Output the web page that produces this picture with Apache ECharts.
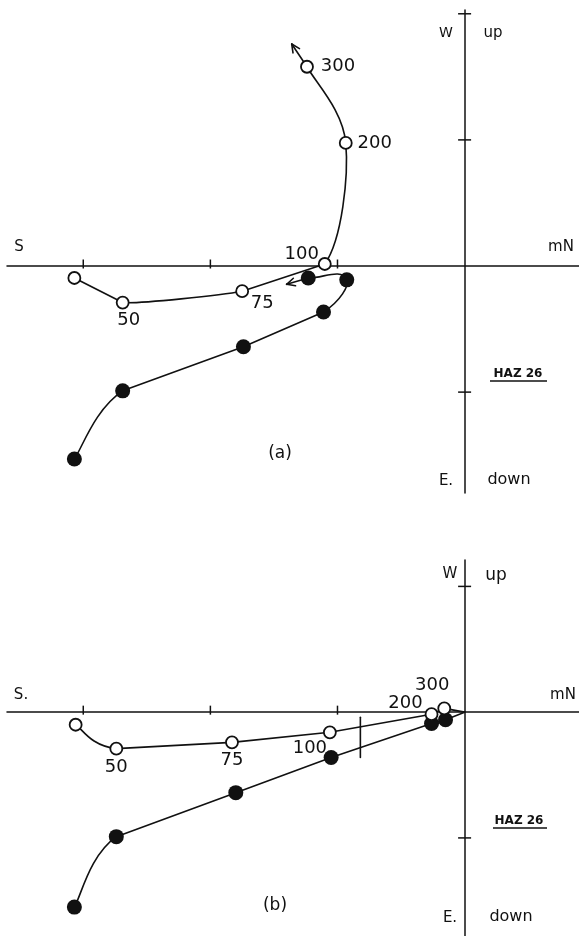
<!DOCTYPE html>
<html>
<head>
<meta charset="utf-8">
<script src="https://cdn.jsdelivr.net/npm/echarts@6/dist/echarts.min.js"></script>
<style>html,body{margin:0;padding:0;background:#fff;}#chart{width:579px;height:936px;}</style>
</head>
<body>
<div id="chart"></div>
<script>
// ---- data (units of the axis ticks) ----
const stepLabels = ['', '50', '75', '100', '200', '300'];
const xTicks = [-3, -2, -1];
const yTicksA = [2, 1, -1];
const yTicksB = [1, -1];

// panel (a)
const northOpenA   = [-3.07, -2.69, -1.75, -1.10, -0.935, -1.24];
const westA        = [-0.095, -0.29, -0.20, 0.016, 0.976, 1.58];
const northFilledA = [-3.07, -2.69, -1.74, -1.11, -0.927, -1.23];
const upA          = [-1.53, -0.99, -0.64, -0.365, -0.11, -0.095];
const arrowTipOpenA   = [-1.36, 1.76];
const arrowTipFilledA = [-1.40, -0.145];

// panel (b)
const northOpenB   = [-3.06, -2.74, -1.83, -1.06, -0.26, -0.16];
const westB        = [-0.10, -0.29, -0.24, -0.16, -0.016, 0.03];
const northFilledB = [-3.07, -2.74, -1.80, -1.05, -0.26, -0.15];
const upB          = [-1.55, -0.99, -0.64, -0.36, -0.09, -0.06];
const originB      = [0, 0];
const cutMarkB     = [[-0.82, -0.04], [-0.82, -0.36]];

// ---- styling: curvature of each connecting segment, label placement ----
const INK = '#111';
const FONT = 'DejaVu Sans';
const curveOpenA   = [0, 0.6, 0, 1, 1];
const curveFilledA = [1, 0, 0, 1, 2.2];
const curveOpenB   = [1, 0, 0, 0, 0, 0];
const curveFilledB = [1, 0, 0, 0, 0, 0];
const labelOffsetsA = [null, [6, 18], [20, 12], [-23, -10], [29, 0], [31, 0]];
const labelOffsetsB = [null, [0, 19], [0, 18], [-20, 16], [-26, -11], [-12, -23]];

const LW = 1.6;

function pathSeries(gi, xs, ys, curv, afterPt) {
  return {
    type: 'custom', coordinateSystem: 'cartesian2d', xAxisIndex: gi, yAxisIndex: gi,
    z: 2, silent: true, clip: false,
    data: [[xs[0], ys[0]]],
    renderItem: function (params, api) {
      const P = xs.map((x, i) => api.coord([x, ys[i]]));
      const after = afterPt ? api.coord(afterPt) : null;
      const children = [];
      for (let i = 0; i < P.length - 1; i++) {
        const k = curv[i] || 0;
        const b = P[i], c = P[i + 1];
        if (!k) {
          children.push({ type: 'line', shape: { x1: b[0], y1: b[1], x2: c[0], y2: c[1] },
            style: { stroke: INK, lineWidth: LW, lineCap: 'round' } });
          continue;
        }
        const a = P[i - 1] || b;
        const e = P[i + 2] || after || c;
        children.push({ type: 'bezierCurve', shape: {
            x1: b[0], y1: b[1], x2: c[0], y2: c[1],
            cpx1: b[0] + (c[0] - a[0]) * k / 6, cpy1: b[1] + (c[1] - a[1]) * k / 6,
            cpx2: c[0] - (e[0] - b[0]) * k / 6, cpy2: c[1] - (e[1] - b[1]) * k / 6 },
          style: { stroke: INK, lineWidth: LW, fill: null, lineCap: 'round' } });
      }
      return { type: 'group', children: children };
    }
  };
}

function arrowSeries(gi, from, to) {
  return {
    type: 'custom', coordinateSystem: 'cartesian2d', xAxisIndex: gi, yAxisIndex: gi,
    z: 2, silent: true, clip: false, data: [from],
    renderItem: function (params, api) {
      const A = api.coord(from), B = api.coord(to);
      const ang = Math.atan2(B[1] - A[1], B[0] - A[0]);
      const L = 9, w = 0.45;
      const h1 = [B[0] - L * Math.cos(ang - w), B[1] - L * Math.sin(ang - w)];
      const h2 = [B[0] - L * Math.cos(ang + w), B[1] - L * Math.sin(ang + w)];
      const st = { stroke: INK, lineWidth: LW, lineCap: 'round' };
      return { type: 'group', children: [
        { type: 'line', shape: { x1: A[0], y1: A[1], x2: B[0], y2: B[1] }, style: st },
        { type: 'line', shape: { x1: B[0], y1: B[1], x2: h1[0], y2: h1[1] }, style: st },
        { type: 'line', shape: { x1: B[0], y1: B[1], x2: h2[0], y2: h2[1] }, style: st }
      ] };
    }
  };
}

function pointItems(xs, ys, offsets) {
  return xs.map((x, i) => {
    const item = { value: [x, ys[i]] };
    if (offsets && offsets[i]) {
      item.label = { show: true, formatter: stepLabels[i], position: 'inside', offset: offsets[i],
        color: INK, opacity: 1, fontFamily: FONT, fontSize: 18, align: 'center', verticalAlign: 'middle' };
    }
    return item;
  });
}

const openStyle = { type: 'scatter', symbol: 'circle', symbolSize: 12, z: 4, silent: true,
  itemStyle: { color: '#fff', borderColor: INK, borderWidth: 1.8, opacity: 1 } };
const filledStyle = { type: 'scatter', symbol: 'circle', symbolSize: 15, z: 3, silent: true,
  itemStyle: { color: INK, opacity: 1 } };

const axisCommon = {
  type: 'value',
  axisLine: { onZero: true, lineStyle: { color: INK, width: 1.5 } },
  axisTick: { show: false }, axisLabel: { show: false }, splitLine: { show: false }
};

function tickSeries(gi, xt, yt) {
  return [
    { type: 'scatter', xAxisIndex: gi, yAxisIndex: gi, silent: true, z: 1, symbol: 'rect',
      symbolSize: [1.5, 9], symbolOffset: [0, -2], itemStyle: { color: INK, opacity: 1 }, data: xt.map(v => [v, 0]) },
    { type: 'scatter', xAxisIndex: gi, yAxisIndex: gi, silent: true, z: 1, symbol: 'rect',
      symbolSize: [13, 1.5], itemStyle: { color: INK, opacity: 1 }, data: yt.map(v => [0, v]) }
  ];
}

const option = {
  animation: false,
  backgroundColor: '#fff',
  grid: [
    { left: 7, top: 10, width: 573, height: 483, containLabel: false },
    { left: 7, top: 560, width: 573, height: 376, containLabel: false }
  ],
  xAxis: [
    Object.assign({ gridIndex: 0, min: -3.6, max: 0.9 }, axisCommon),
    Object.assign({ gridIndex: 1, min: -3.6, max: 0.9 }, axisCommon)
  ],
  yAxis: [
    Object.assign({ gridIndex: 0, min: -1.8, max: 2.03 }, axisCommon),
    Object.assign({ gridIndex: 1, min: -1.78, max: 1.21 }, axisCommon)
  ],
  series: [
    ...tickSeries(0, xTicks, yTicksA),
    ...tickSeries(1, xTicks, yTicksB),
    pathSeries(0, northFilledA, upA, curveFilledA, null),
    pathSeries(0, northOpenA, westA, curveOpenA, arrowTipOpenA),
    arrowSeries(0, [northOpenA[5], westA[5]], arrowTipOpenA),
    arrowSeries(0, [northFilledA[5], upA[5]], arrowTipFilledA),
    pathSeries(1, northFilledB.concat([originB[0]]), upB.concat([originB[1]]), curveFilledB, null),
    pathSeries(1, northOpenB.concat([originB[0]]), westB.concat([originB[1]]), curveOpenB, null),
    pathSeries(1, cutMarkB.map(p => p[0]), cutMarkB.map(p => p[1]), [0], null),
    Object.assign({ xAxisIndex: 0, yAxisIndex: 0, data: pointItems(northFilledA, upA, null) }, filledStyle),
    Object.assign({ xAxisIndex: 0, yAxisIndex: 0, data: pointItems(northOpenA, westA, labelOffsetsA) }, openStyle),
    Object.assign({ xAxisIndex: 1, yAxisIndex: 1, data: pointItems(northFilledB, upB, null) }, filledStyle),
    Object.assign({ xAxisIndex: 1, yAxisIndex: 1, data: pointItems(northOpenB, westB, labelOffsetsB) }, openStyle)
  ],
  graphic: [
    { type: 'text', x: 446, y: 33, style: { text: 'W', fill: INK, font: '14px ' + FONT, align: 'center', verticalAlign: 'middle' } },
    { type: 'text', x: 493, y: 33, style: { text: 'up', fill: INK, font: '15px ' + FONT, align: 'center', verticalAlign: 'middle' } },
    { type: 'text', x: 19, y: 247, style: { text: 'S', fill: INK, font: '15px ' + FONT, align: 'center', verticalAlign: 'middle' } },
    { type: 'text', x: 561, y: 247, style: { text: 'mN', fill: INK, font: '15px ' + FONT, align: 'center', verticalAlign: 'middle' } },
    { type: 'text', x: 446, y: 481, style: { text: 'E.', fill: INK, font: '15px ' + FONT, align: 'center', verticalAlign: 'middle' } },
    { type: 'text', x: 509, y: 480, style: { text: 'down', fill: INK, font: '16px ' + FONT, align: 'center', verticalAlign: 'middle' } },
    { type: 'text', x: 518, y: 374, style: { text: 'HAZ 26', fill: INK, font: 'bold 12px ' + FONT, align: 'center', verticalAlign: 'middle' } },
    { type: 'line', shape: { x1: 490, y1: 381, x2: 547, y2: 381 }, style: { stroke: INK, lineWidth: 1.3 } },
    { type: 'text', x: 280, y: 454, style: { text: '(a)', fill: INK, font: '17px ' + FONT, align: 'center', verticalAlign: 'middle' } },

    { type: 'text', x: 450, y: 574, style: { text: 'W', fill: INK, font: '15px ' + FONT, align: 'center', verticalAlign: 'middle' } },
    { type: 'text', x: 496, y: 576, style: { text: 'up', fill: INK, font: '17px ' + FONT, align: 'center', verticalAlign: 'middle' } },
    { type: 'text', x: 21, y: 695, style: { text: 'S.', fill: INK, font: '15px ' + FONT, align: 'center', verticalAlign: 'middle' } },
    { type: 'text', x: 563, y: 695, style: { text: 'mN', fill: INK, font: '15px ' + FONT, align: 'center', verticalAlign: 'middle' } },
    { type: 'text', x: 450, y: 918, style: { text: 'E.', fill: INK, font: '15px ' + FONT, align: 'center', verticalAlign: 'middle' } },
    { type: 'text', x: 511, y: 917, style: { text: 'down', fill: INK, font: '16px ' + FONT, align: 'center', verticalAlign: 'middle' } },
    { type: 'text', x: 519, y: 821, style: { text: 'HAZ 26', fill: INK, font: 'bold 12px ' + FONT, align: 'center', verticalAlign: 'middle' } },
    { type: 'line', shape: { x1: 493, y1: 828, x2: 547, y2: 828 }, style: { stroke: INK, lineWidth: 1.3 } },
    { type: 'text', x: 275, y: 906, style: { text: '(b)', fill: INK, font: '17px ' + FONT, align: 'center', verticalAlign: 'middle' } }
  ]
};

const chart = echarts.init(document.getElementById('chart'), null, { renderer: 'canvas' });
chart.setOption(option);
</script>
</body>
</html>
